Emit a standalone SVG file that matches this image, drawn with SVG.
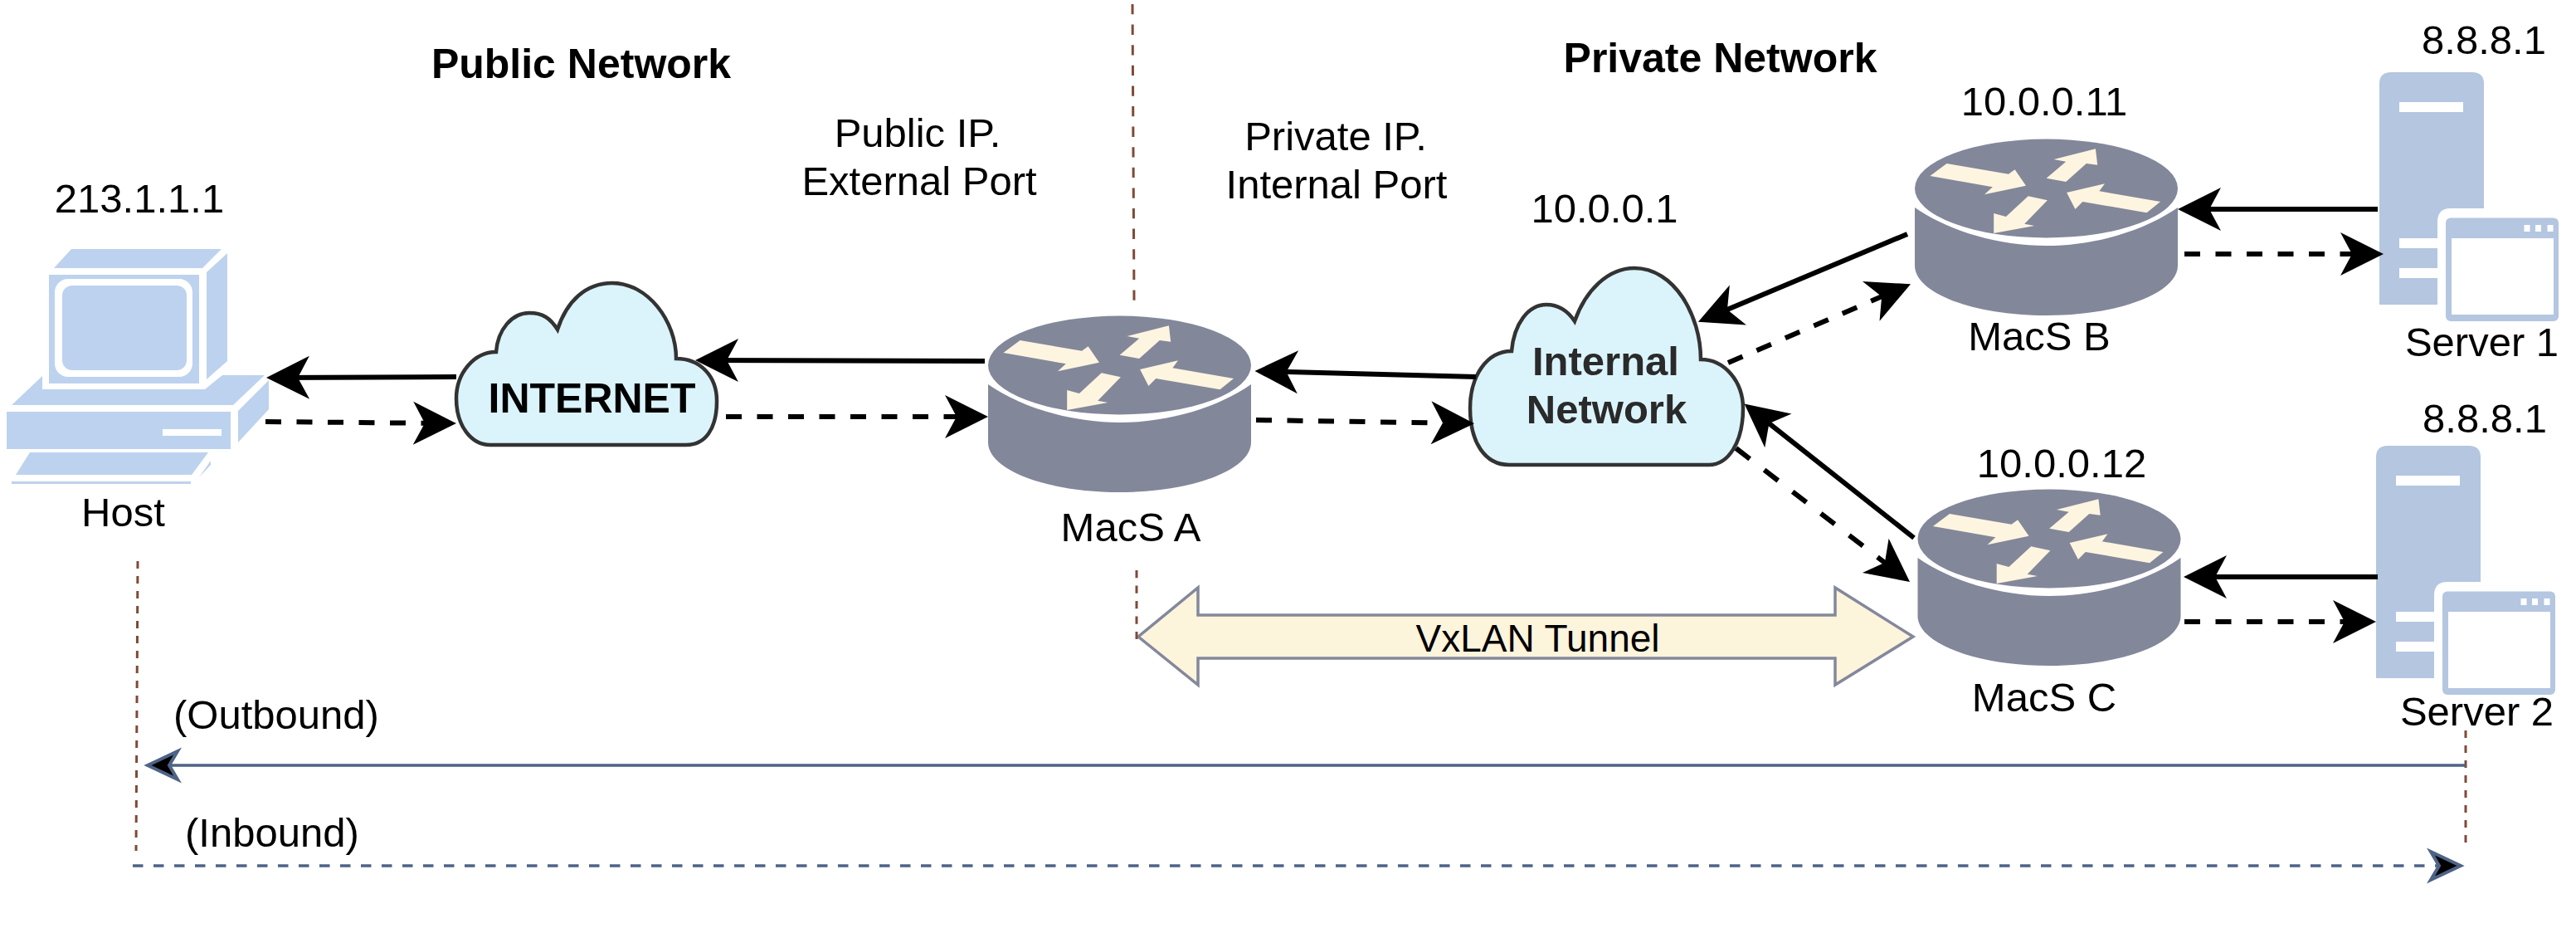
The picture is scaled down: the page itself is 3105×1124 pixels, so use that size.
<svg xmlns="http://www.w3.org/2000/svg" xmlns:xlink="http://www.w3.org/1999/xlink" width="3105" height="1124" viewBox="0 0 3105 1124">
<style>
text{font-family:"Liberation Sans",Arial,sans-serif;font-size:49px;fill:#000;text-anchor:middle}
.b{font-weight:bold}
.hd{font-size:50px}
.cloud{fill:#dbf4fc;stroke:#333;stroke-width:4.5}
.h{fill:#bdd2ee}
.s{fill:#b4c6e0}
.w{fill:#fff}
.r{fill:#83879a}
.c{fill:#fdf5e0}
.solid{stroke:#000;stroke-width:6;fill:none;marker-end:url(#ah)}
.dash{stroke:#000;stroke-width:6;fill:none;stroke-dasharray:19 18.5;marker-end:url(#ah)}
.guide{stroke:#7f4a36;stroke-width:3;fill:none}
.flow{stroke:#4e6387;stroke-width:3.5;fill:none;marker-end:url(#bh)}
</style>
<defs>
<marker id="ah" markerUnits="userSpaceOnUse" viewBox="0 -27 54 54" markerWidth="54" markerHeight="54" refX="40" refY="0" orient="auto" overflow="visible"><path d="M0,-26L52,0L0,26L14,0z" fill="#000"/></marker>
<marker id="bh" markerUnits="userSpaceOnUse" viewBox="-5 -22 46 44" markerWidth="46" markerHeight="44" refX="10" refY="0" orient="auto" overflow="visible"><path d="M0,-17L36,0L0,17L10,0z" fill="#000" stroke="#4e6387" stroke-width="4"/></marker>
<g id="router">
<path class="r" d="M158.5,23C120,50 60,69 0,69C-60,69 -120,50 -158.5,23V93C-158.5,126 -88,153 0,153C88,153 158.5,126 158.5,93Z"/>
<ellipse class="r" cx="0" cy="0" rx="158.5" ry="59.5"/>
<polygon class="c" points="-120,-30 -45.5,-17.3 -37.9,-22.7 -24.5,-3.3 -74.5,7.3 -64.7,-1.7 -140.1,-15"/>
<polygon class="c" points="59.4,-47.7 61.7,-28.3 48.3,-30 23.7,-8 0.1,-12.3 23.7,-32.3 9,-35"/>
<polygon class="c" points="24.6,5 70.5,-5.7 63.9,3.3 137.5,16 121,29.3 43.8,16 34.9,25"/>
<polygon class="c" points="-63.3,54 -63.3,30 -48.6,34 -21.8,9.3 1.4,14.3 -26.3,42.7 -14.2,45"/>
</g>
<g id="server">
<path class="s" d="M0,14Q0,0 14,0H112Q126,0 126,14V164H86Q70,164 70,180V280H0Z"/>
<rect class="w" x="24" y="36" width="77" height="12"/>
<rect class="w" x="24" y="200" width="46" height="12"/>
<rect class="w" x="24" y="236" width="46" height="12"/>
<rect class="s" x="80" y="175.5" width="136" height="124.5" rx="6"/>
<rect class="w" x="87" y="200" width="123" height="92"/>
<rect class="w" x="174.5" y="184" width="7" height="8"/>
<rect class="w" x="188" y="184" width="7" height="8"/>
<rect class="w" x="202.5" y="184" width="7" height="8"/>
</g>
</defs>
<rect width="3105" height="1124" fill="#fff"/>
<g id="host">
<polygon class="h" points="86,300 267,300 244,323 65,323"/>
<rect class="h" x="59" y="331" width="181" height="131"/>
<rect class="w" x="66" y="336" width="166" height="118" rx="16"/>
<rect class="h" x="75" y="344" width="150" height="102" rx="12"/>
<polygon class="h" points="274,305 274,435 249,457 249,328"/>
<polygon class="h" points="51,453 51,469 247,469 268,452 319,452 281,488 14,488"/>
<rect class="h" x="8" y="496" width="270" height="45"/>
<rect class="w" x="196" y="517" width="71" height="8"/>
<polygon class="h" points="287,495 324,458 324,493 287,533"/>
<polygon class="h" points="36,545 251,545 231,572 19,572"/>
<polygon class="h" points="254,555 254,560 240,575"/>
<rect class="h" x="14" y="580" width="216" height="3"/>
<text x="168" y="256">213.1.1.1</text>
<text x="148.5" y="634">Host</text>
</g>
<g id="internet">
<path class="cloud" d="M591,536H827C850,536 864,517 864,483C864,453 844,432 815,432C815,387 781,341 738,341C706,341 683,363 672,397C663,383 654,377 638,377C617,377 600,397 598,424C571,424 550,450 550,480C550,513 568,536 591,536Z"/>
<text class="b hd" x="713.5" y="497">INTERNET</text>
</g>
<g id="macs-a"><use xlink:href="#router" href="#router" transform="translate(1349.5,440)"/><text x="1363" y="652">MacS A</text></g>
<g id="internal-network">
<path class="cloud" d="M1819,560H2060C2083,560 2101,533 2101,492C2101,460 2079,433 2050,433C2050,380 2018,323 1970,323C1938,323 1911,350 1898,387C1890,375 1880,367 1864,367C1842,367 1825,390 1822,423C1792,423 1772,453 1772,492C1772,533 1790,560 1819,560Z"/>
<text class="b" x="1935.5" y="452" style="fill:#2a2a2a">Internal</text>
<text class="b" x="1936.5" y="510" style="fill:#2a2a2a">Network</text>
<text x="1934" y="268">10.0.0.1</text>
</g>
<g id="macs-b"><use xlink:href="#router" href="#router" transform="translate(2466.5,227)"/><text x="2464" y="139">10.0.0.11</text><text x="2458" y="422">MacS B</text></g>
<g id="macs-c"><use xlink:href="#router" href="#router" transform="translate(2470,649)"/><text x="2485" y="575">10.0.0.12</text><text x="2464" y="857">MacS C</text></g>
<g id="server-1"><use xlink:href="#server" href="#server" transform="translate(2868,87)"/><text x="2994" y="65">8.8.8.1</text><text x="2991.5" y="429">Server 1</text></g>
<g id="server-2"><use xlink:href="#server" href="#server" transform="translate(2864,537)"/><text x="2995" y="521">8.8.8.1</text><text x="2985.5" y="874">Server 2</text></g>
<g id="vxlan-tunnel">
<polygon points="1372,767 1444,708 1444,741 2212,741 2212,708 2306,767 2212,825 2212,793 1444,793 1444,825" fill="#fdf4dc" stroke="#83889b" stroke-width="3.5"/>
<text x="1853.5" y="785" style="font-size:46px">VxLAN Tunnel</text>
</g>
<g id="labels">
<text class="b hd" x="700.5" y="94">Public Network</text>
<text class="b hd" x="2073.5" y="87">Private Network</text>
<text x="1106" y="177">Public IP.</text>
<text x="1108" y="235">External Port</text>
<text x="1610" y="181">Private IP.</text>
<text x="1611" y="239">Internal Port</text>
<text x="209" y="878" style="text-anchor:start">(Outbound)</text>
<text x="223" y="1020" style="text-anchor:start">(Inbound)</text>
</g>
<g id="connectors">
<line class="guide" x1="1365" y1="5" x2="1367" y2="362" stroke-dasharray="12.3 12.3"/>
<line class="guide" x1="1370" y1="687" x2="1370" y2="770" stroke-dasharray="9.2 9.3"/>
<line class="guide" x1="166" y1="676" x2="164" y2="1025" stroke-dasharray="9 9"/>
<line class="guide" x1="2972" y1="880" x2="2972" y2="1021" stroke-dasharray="9 9"/>
<line class="flow" x1="2972" y1="922" x2="204" y2="922"/>
<line class="flow" x1="160" y1="1043" x2="2940" y2="1043" stroke-dasharray="12.5 12.5"/>
<line class="solid" x1="550" y1="454" x2="333" y2="455"/>
<line class="dash" x1="320" y1="508" x2="538" y2="510" stroke-dasharray="8 14 19 18.5 19 18.5 19 18.5 19 18.5 19 18.5 19 18.5"/>
<line class="solid" x1="1187" y1="435" x2="850" y2="434"/>
<line class="dash" x1="875" y1="502" x2="1179" y2="502"/>
<line class="solid" x1="1779" y1="454" x2="1524.5" y2="447.3"/>
<line class="dash" x1="1514" y1="506" x2="1765" y2="510" stroke-dasharray="8 14 19 18.5 19 18.5 19 18.5 19 18.5 19 18.5 19 18.5 19 18.5"/>
<line class="solid" x1="2299" y1="282" x2="2058" y2="383"/>
<line class="dash" x1="2083" y1="437" x2="2292" y2="347"/>
<line class="solid" x1="2307" y1="648" x2="2112" y2="494"/>
<line class="dash" x1="2092.5" y1="540" x2="2292.5" y2="693.7" style="stroke-dasharray:21 22"/>
<line class="solid" x1="2866" y1="252" x2="2637" y2="252"/>
<line class="dash" x1="2633" y1="306" x2="2861" y2="306"/>
<line class="solid" x1="2866" y1="695" x2="2644" y2="695"/>
<line class="dash" x1="2633" y1="749" x2="2852" y2="749"/>
</g>
</svg>
